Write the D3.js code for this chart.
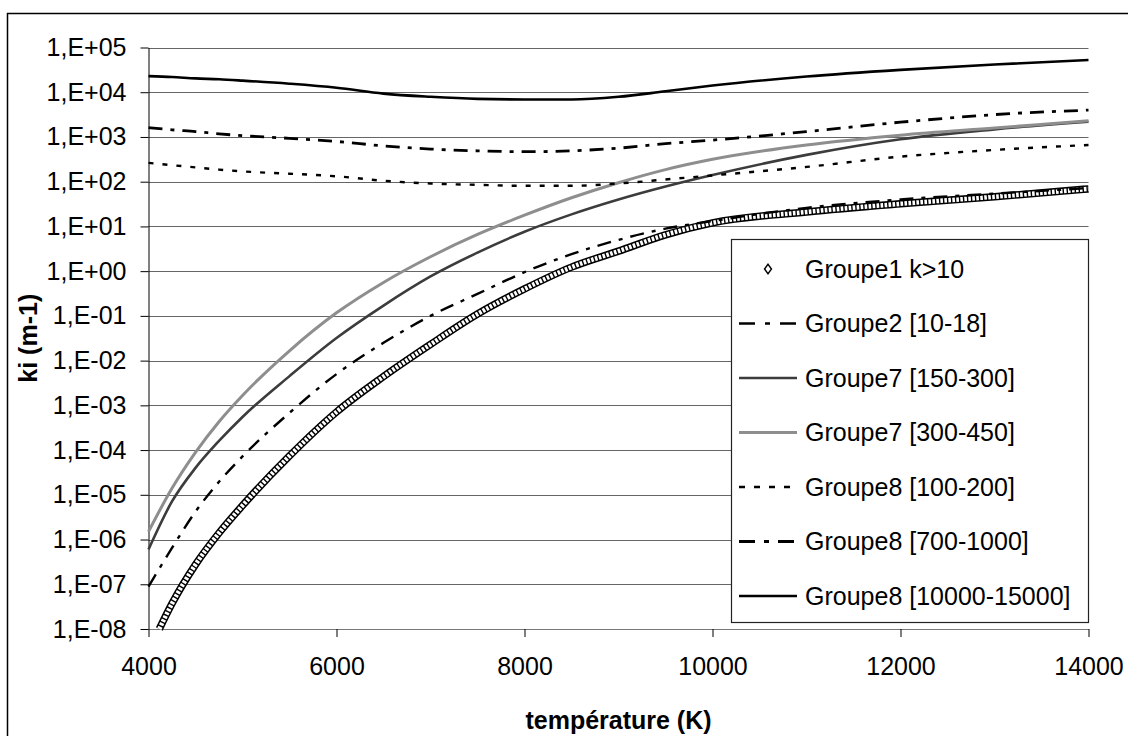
<!DOCTYPE html>
<html>
<head>
<meta charset="utf-8">
<script src="https://cdn.jsdelivr.net/npm/d3@7"></script>
<style>
  body { margin: 0; background: #fff; }
  svg { display: block; font-family: "Liberation Sans", Arial, sans-serif; }
</style>
</head>
<body>
<svg id="chart" width="1128" height="736"></svg>
<script>
// ki (m-1) vs température (K), log scale

// -- data --
const temps = [4000, 4250, 4500, 4750, 5000, 5500, 6000, 6500, 7000, 7500, 8000, 8500, 9000, 9500, 10000, 11000, 12000, 13000, 14000];
const g1Temps = [4115, 4250, 4500, 4750, 5000, 5500, 6000, 6500, 7000, 7500, 8000, 8500, 9000, 9500, 10000, 11000, 12000, 13000, 14000];

const groupe1 = [1.0e-8, 3.7e-8, 2.75e-7, 1.4e-6, 5.75e-6, 7.4e-5, 7.1e-4, 4.4e-3, 2.3e-2, 0.11, 0.40, 1.23, 2.8, 6.5, 12, 21, 32, 46, 69];
const groupe2 = [8.9e-8, 6.5e-7, 4.2e-6, 1.95e-5, 7.2e-5, 6.8e-4, 5.0e-3, 2.5e-2, 0.10, 0.31, 0.95, 2.4, 5.0, 8.9, 13.2, 26, 40, 54, 72];
const groupe7a = [6.0e-7, 7.1e-6, 4.0e-5, 1.6e-4, 5.5e-4, 4.5e-3, 3.2e-2, 0.17, 0.76, 2.6, 7.6, 18.6, 40, 78, 141, 398, 890, 1480, 2190];
const groupe7b = [1.5e-6, 1.4e-5, 8.9e-5, 4.3e-4, 1.66e-3, 1.66e-2, 0.117, 0.56, 2.1, 6.6, 17.8, 43.7, 95, 186, 316, 661, 1096, 1585, 2291];
const groupe8a = [263, 234, 209, 186, 170, 151, 132, 105, 91, 85, 81, 81, 91, 112, 138, 214, 363, 513, 661];
const groupe8b = [1620, 1445, 1318, 1175, 1070, 933, 794, 631, 537, 490, 468, 490, 562, 708, 851, 1318, 2138, 3162, 3981];
const groupe8c = [22900, 21900, 20400, 19500, 18200, 15500, 12600, 9300, 7900, 7100, 6900, 6900, 7900, 10500, 14100, 22400, 31600, 41700, 52500];

const seriesNames = ["Groupe1 k>10", "Groupe2 [10-18]", "Groupe7 [150-300]", "Groupe7 [300-450]",
  "Groupe8 [100-200]", "Groupe8 [700-1000]", "Groupe8 [10000-15000]"];

const xTicks = [4000, 6000, 8000, 10000, 12000, 14000];
const yTicks = [1e-8, 1e-7, 1e-6, 1e-5, 1e-4, 1e-3, 1e-2, 1e-1, 1e0, 1e1, 1e2, 1e3, 1e4, 1e5];

// -- layout --
const svg = d3.select("#chart");
const plot = { left: 148.5, right: 1088.5, top: 47.5, bottom: 629 };
const fontSize = 25;

const x = d3.scaleLinear().domain([4000, 14000]).range([plot.left, plot.right]);
const y = d3.scaleLog().domain([1e-8, 1e5]).range([plot.bottom, plot.top]);

// outer chart border
svg.append("rect")
  .attr("x", 7.5).attr("y", 13.5)
  .attr("width", 1130).attr("height", 740)
  .attr("fill", "none").attr("stroke", "#000").attr("stroke-width", 1.5);

// horizontal gridlines
svg.append("g")
  .selectAll("line")
  .data(yTicks)
  .enter()
  .append("line")
  .attr("x1", plot.left).attr("x2", plot.right)
  .attr("y1", d => Math.round(y(d)) + 0.5).attr("y2", d => Math.round(y(d)) + 0.5)
  .attr("stroke", "#666").attr("stroke-width", 1);

// y axis
const fmtY = d => {
  const e = Math.round(Math.log10(d));
  return "1,E" + (e < 0 ? "-" : "+") + String(Math.abs(e)).padStart(2, "0");
};
const yAxis = svg.append("g")
  .attr("transform", `translate(${plot.left},0)`)
  .call(d3.axisLeft(y).tickValues(yTicks).tickFormat(fmtY).tickSize(8).tickSizeOuter(0).tickPadding(14));
yAxis.select(".domain").attr("stroke", "#000");
yAxis.selectAll(".tick line").attr("stroke", "#000");
yAxis.selectAll("text")
  .style("font-size", fontSize + "px")
  .style("font-family", "Liberation Sans, Arial, sans-serif")
  .attr("fill", "#000");

// x axis
const xAxis = svg.append("g")
  .attr("transform", `translate(0,${plot.bottom})`)
  .call(d3.axisBottom(x).tickValues(xTicks).tickFormat(d3.format("d")).tickSize(8).tickSizeOuter(0).tickPadding(20));
xAxis.select(".domain").attr("stroke", "#777");
xAxis.selectAll(".tick line").attr("stroke", "#000");
xAxis.selectAll("text")
  .style("font-size", fontSize + "px")
  .style("font-family", "Liberation Sans, Arial, sans-serif")
  .attr("fill", "#000");

// axis titles
svg.append("text")
  .attr("x", (plot.left + plot.right) / 2).attr("y", 720)
  .attr("dy", "0.35em")
  .attr("text-anchor", "middle")
  .style("font-size", fontSize + "px").style("font-weight", "bold")
  .text("température (K)");

svg.append("text")
  .attr("transform", `translate(28,${(plot.top + plot.bottom) / 2}) rotate(-90)`)
  .attr("dy", "0.35em")
  .attr("text-anchor", "middle")
  .style("font-size", fontSize + "px").style("font-weight", "bold")
  .text("ki (m-1)");

// clip to plot area
svg.append("clipPath").attr("id", "clip")
  .append("rect")
  .attr("x", plot.left - 6).attr("y", plot.top - 4)
  .attr("width", plot.right - plot.left + 12).attr("height", plot.bottom - plot.top + 8);

const lines = svg.append("g").attr("clip-path", "url(#clip)");

const line = d3.line()
  .x(d => x(d[0]))
  .y(d => y(d[1]))
  .curve(d3.curveMonotoneX);

const pairs = (ts, vs) => ts.map((t, i) => [t, vs[i]]);

// series styles (Excel-like, monochrome)
const styles = [
  null, // groupe1 : hollow diamonds, drawn below
  { stroke: "#000", width: 2.4, dash: "14,8,4,8", legendDash: "16,10,5,10" },
  { stroke: "#3c3c3c", width: 2.6, dash: null, legendDash: null },
  { stroke: "#8e8e8e", width: 3, dash: null, legendDash: null },
  { stroke: "#000", width: 2.4, dash: "5,9", legendDash: "6,9" },
  { stroke: "#000", width: 2.8, dash: "14,8,4,8", legendDash: "16,9,5,9" },
  { stroke: "#000", width: 2.6, dash: null, legendDash: null }
];

// Groupe1 : dense hollow diamonds -> black outline with white cells
const g1 = pairs(g1Temps, groupe1);
lines.append("path")
  .datum(g1)
  .attr("d", line)
  .attr("fill", "none").attr("stroke", "#000").attr("stroke-width", 7.5);
lines.append("path")
  .datum(g1)
  .attr("d", line)
  .attr("fill", "none").attr("stroke", "#fff").attr("stroke-width", 4.5)
  .attr("stroke-dasharray", "2.6,1.4");

const others = [groupe2, groupe7a, groupe7b, groupe8a, groupe8b, groupe8c];
others.forEach((vals, k) => {
  const s = styles[k + 1];
  lines.append("path")
    .datum(pairs(temps, vals))
    .attr("d", line)
    .attr("fill", "none")
    .attr("stroke", s.stroke)
    .attr("stroke-width", s.width)
    .attr("stroke-dasharray", s.dash);
});

// legend
const legend = svg.append("g");
legend.append("rect")
  .attr("x", 731.5).attr("y", 239.5)
  .attr("width", 357).attr("height", 383)
  .attr("fill", "#fff").attr("stroke", "#222").attr("stroke-width", 1.2);

seriesNames.forEach((name, i) => {
  const cy = 269 + i * 54.5;
  const s = styles[i];
  if (s === null) {
    legend.append("path")
      .attr("d", d3.symbol().type(d3.symbolDiamond).size(26)())
      .attr("transform", `translate(768,${cy}) scale(1.25,1)`)
      .attr("fill", "#fff").attr("stroke", "#000").attr("stroke-width", 1.3);
  } else {
    legend.append("line")
      .attr("x1", 739).attr("x2", 797)
      .attr("y1", cy).attr("y2", cy)
      .attr("stroke", s.stroke)
      .attr("stroke-width", s.width)
      .attr("stroke-dasharray", s.legendDash);
  }
  legend.append("text")
    .attr("x", 805).attr("y", cy)
    .attr("dy", "0.35em")
    .style("font-size", fontSize + "px")
    .text(name);
});
</script>
</body>
</html>
